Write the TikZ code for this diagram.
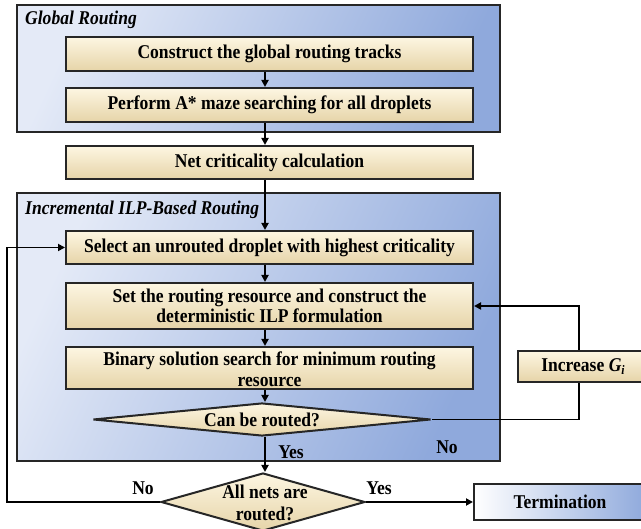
\documentclass[tikz,border=0pt]{standalone}
\usepackage{fontspec}
\setmainfont{Liberation Serif}[FakeStretch=0.9]
\usetikzlibrary{arrows.meta,shapes.geometric}
\definecolor{bl1}{HTML}{E4EAF7}
\definecolor{bl2}{HTML}{8FA9DC}
\definecolor{cr1}{HTML}{FDF6E2}
\definecolor{cr2}{HTML}{E6D4A8}
\begin{document}
\begin{tikzpicture}[x=1pt,y=-1pt,
  region/.style={draw=black!85, line width=1.7pt, top color=bl1, bottom color=bl2, shading angle=65},
  stepbox/.style={draw=black!85, line width=2pt, top color=cr1, bottom color=cr2,
     minimum width=407pt, inner sep=0pt, align=center},
  txt/.style={font=\bfseries\fontsize{19.5}{21}\selectfont},
  lbl/.style={font=\bfseries\itshape\fontsize{19.5}{21}\selectfont, anchor=west, inner sep=0pt},
  dec/.style={diamond, draw=black!85, line width=2pt, top color=cr1, bottom color=cr2,
     aspect=9, inner sep=0pt, align=center},
  arr/.style={line width=1.8pt, -{Triangle[width=7pt,length=7pt]}},
  ln/.style={line width=1.8pt}]
\useasboundingbox (0,0) rectangle (641,529);
% regions
\path[region] (17,5) rectangle (500,132);
\path[region] (17,193) rectangle (500,461);
\node[lbl] (glab) at (25,20) {Global Routing};
\node[lbl] (ilab) at (25,210) {Incremental ILP-Based Routing};
\coordinate (ax) at (265,0);
\coordinate (lx) at (7,0);
\coordinate (gx) at (579,0);
% steps
\node[stepbox, txt, minimum height=34pt] (b1) at (269.5,54) {Construct the global routing tracks};
\node[stepbox, txt, minimum height=34pt] (b2) at (269.5,105) {Perform A* maze searching for all droplets};
\node[stepbox, txt, minimum height=33pt] (b3) at (269.5,162.5) {Net criticality calculation};
\node[stepbox, txt, minimum height=33pt] (b4) at (269.5,247.5) {Select an unrouted droplet with highest criticality};
\node[stepbox, txt, minimum height=46pt, font=\bfseries\fontsize{19.5}{20.5}\selectfont] (b5) at (269.5,306) {Set the routing resource and construct the\\deterministic ILP formulation};
\node[stepbox, minimum height=42pt] (b6) at (269.5,368) {};
\node[txt, align=center, inner sep=0pt, font=\bfseries\fontsize{19.5}{21.5}\selectfont] (b6t) at (269.5,369.5) {Binary solution search for minimum routing\\resource};
% decisions
\node[dec, txt, minimum width=338pt, minimum height=33pt] (d1) at (262,419.5) {Can be routed?};
\node[dec, minimum width=204pt, minimum height=58pt] (d2) at (263,502) {};
\node[txt, align=center, inner sep=0pt, font=\bfseries\fontsize{19.5}{21.5}\selectfont] (d2t) at (265,503) {All nets are\\routed?};
% side boxes
\node[draw=black!85, line width=2pt, left color=white, right color=bl2, minimum width=172pt, minimum height=36pt, inner sep=0pt, txt] (term) at (560,502) {Termination};
\node[draw=black!85, line width=2pt, top color=cr1, bottom color=cr2, minimum width=130pt, minimum height=31pt, inner sep=0pt, txt] (gi) at (583,366.5) {Increase \textit{G}\raisebox{-0.35ex}{\fontsize{13}{13}\selectfont\textit{i}}};
% connectors
\draw[arr] (b1.south -| ax) -- (b2.north -| ax);
\draw[arr] (b2.south -| ax) -- (b3.north -| ax);
\draw[arr] (b3.south -| ax) -- (b4.north -| ax);
\draw[arr] (b4.south -| ax) -- (b5.north -| ax);
\draw[arr] (b5.south -| ax) -- (b6.north -| ax);
\draw[arr] (b6.south -| ax) -- (ax |- d1.north);
\draw[arr] (ax |- d1.south) -- (ax |- d2.north);
\draw[arr] (d2.east) -- (term.west);
\draw[arr] (d2.west) -| (lx |- b4.west) -- (b4.west);
\draw[ln] (d1.east) -| (gx |- gi.south);
\draw[arr] (gx |- gi.north) |- (b5.east);
% labels
\node[txt, inner sep=0pt] (y1) at (291,452) {Yes};
\node[txt, inner sep=0pt] (n1) at (447,447) {No};
\node[txt, inner sep=0pt] (n2) at (143,488) {No};
\node[txt, inner sep=0pt] (y2) at (379,488) {Yes};
\end{tikzpicture}
\end{document}
